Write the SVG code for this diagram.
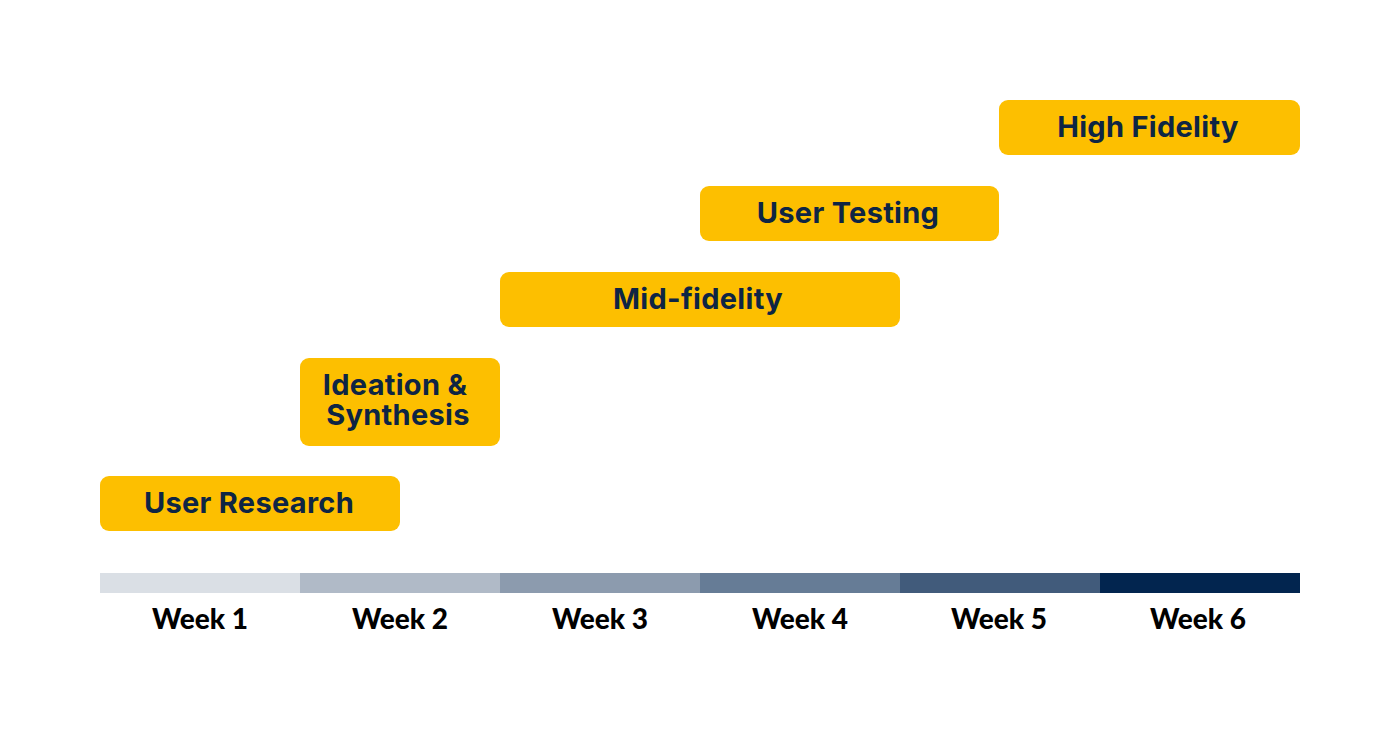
<svg xmlns="http://www.w3.org/2000/svg" width="1400" height="735" viewBox="0 0 1400 735">
<style>
.box{fill:#FDBF00}
.lbl{font-family:Inter,"Liberation Sans",sans-serif;font-weight:700;font-size:29px;letter-spacing:0.3px;fill:#0E2544;text-anchor:middle}
.wk{font-family:Lato,"Liberation Sans",sans-serif;font-weight:900;font-size:28px;fill:#000;text-anchor:middle}
</style>
<rect width="1400" height="735" fill="#fff"/>
<g id="timeline">
<rect x="100" y="573" width="200" height="20" fill="#DADFE5"/>
<rect x="300" y="573" width="200" height="20" fill="#B0BAC7"/>
<rect x="500" y="573" width="200" height="20" fill="#8C9BAE"/>
<rect x="700" y="573" width="200" height="20" fill="#667C96"/>
<rect x="900" y="573" width="200" height="20" fill="#415B7B"/>
<rect x="1100" y="573" width="200" height="20" fill="#02254F"/>
<text class="wk" x="200" y="629">Week 1</text>
<text class="wk" x="400" y="629">Week 2</text>
<text class="wk" x="600" y="629">Week 3</text>
<text class="wk" x="800" y="629">Week 4</text>
<text class="wk" x="999" y="629">Week 5</text>
<text class="wk" x="1198" y="629">Week 6</text>
</g>
<g id="user-research">
<rect class="box" x="100" y="476" width="300" height="55" rx="9"/>
<text class="lbl" x="249" y="513">User Research</text>
</g>
<g id="ideation">
<rect class="box" x="300" y="358" width="200" height="88" rx="9"/>
<text class="lbl" x="395" y="395">Ideation &amp;</text>
<text class="lbl" x="398" y="425">Synthesis</text>
</g>
<g id="mid-fidelity">
<rect class="box" x="500" y="272" width="400" height="55" rx="9"/>
<text class="lbl" x="698" y="309">Mid-fidelity</text>
</g>
<g id="user-testing">
<rect class="box" x="700" y="186" width="299" height="55" rx="9"/>
<text class="lbl" x="848" y="223">User Testing</text>
</g>
<g id="high-fidelity">
<rect class="box" x="999" y="100" width="301" height="55" rx="9"/>
<text class="lbl" x="1148" y="137">High Fidelity</text>
</g>
<g id="connectors"/>
</svg>
